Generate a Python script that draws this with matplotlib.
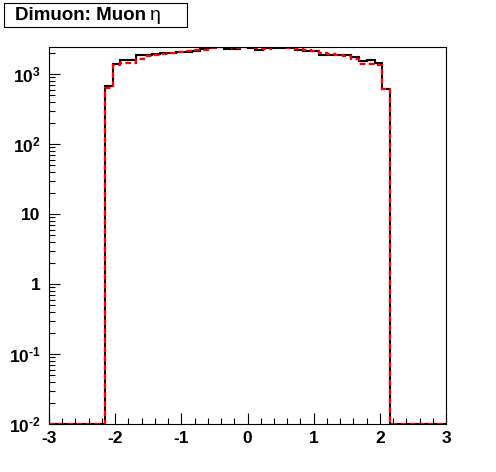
import numpy as np
import matplotlib
matplotlib.use("Agg")
import matplotlib.pyplot as plt
from matplotlib.ticker import FixedLocator, FixedFormatter, LogLocator, MultipleLocator, NullFormatter
from matplotlib.patches import Rectangle

plt.rcParams['font.family'] = ['Liberation Sans', 'DejaVu Sans']
plt.rcParams['font.weight'] = 'bold'
plt.rcParams['mathtext.fontset'] = 'custom'
plt.rcParams['mathtext.rm'] = 'Liberation Sans:bold'
plt.rcParams['mathtext.bf'] = 'Liberation Sans:bold'
plt.rcParams['axes.unicode_minus'] = False

# bin edges of the eta histogram (50 bins, -3 .. 3)
eta_edges = np.linspace(-3, 3, 51)

# counts per bin (7 empty bins on each side)
empty = [0, 0, 0, 0, 0, 0, 0]
black_counts = empty + [681, 1389, 1611, 1611, 1849, 1887, 1931, 1976, 2029, 2063,
                        2097, 2153, 2276, 2352, 2407, 2298, 2298, 2407, 2391, 2203,
                        2352, 2352, 2352, 2352, 2203, 2110, 2131, 1887, 1887, 1887,
                        1887, 1766, 1549, 1601, 1450, 605] + empty
red_counts = empty + [625, 1345, 1422, 1422, 1638, 1826, 1887, 1931, 2015, 2083,
                      2153, 2203, 2239, 2329, 2420, 2420, 2375, 2420, 2420, 2375,
                      2276, 2420, 2420, 2352, 2254, 2203, 2110, 1976, 1912, 1868,
                      1826, 1622, 1389, 1389, 1345, 611] + empty

ymin, ymax = 1e-2, 2440
ytick_vals = [1e-2, 1e-1, 1, 10, 1e2, 1e3]
ytick_labels = [r'$\mathbf{10^{\text{-}2}}$', r'$\mathbf{10^{\text{-}1}}$', '1', '10',
                r'$\mathbf{10^{2}}$', r'$\mathbf{10^{3}}$']
xtick_vals = [-3, -2, -1, 0, 1, 2, 3]

fig = plt.figure(figsize=(4.96, 4.72), dpi=100)
ax = fig.add_axes([49 / 496, 48 / 472, 397 / 496, 377 / 472])

ax.stairs(np.clip(black_counts, ymin, None), eta_edges, baseline=None,
          color='black', linewidth=1.5)
ax.stairs(np.clip(red_counts, ymin, None), eta_edges, baseline=None,
          color='red', linewidth=1.6, linestyle=(0, (2.6, 1.5)))

ax.set_yscale('log')
ax.set_xlim(-3, 3)
ax.set_ylim(ymin, ymax)

ax.xaxis.set_major_locator(FixedLocator(xtick_vals))
ax.xaxis.set_minor_locator(MultipleLocator(0.2))
ax.yaxis.set_major_locator(FixedLocator(ytick_vals))
ax.yaxis.set_major_formatter(FixedFormatter(ytick_labels))
ax.yaxis.set_minor_locator(LogLocator(base=10, subs=np.arange(2, 10)))
ax.yaxis.set_minor_formatter(NullFormatter())

ax.tick_params(which='both', direction='in', top=False, right=False, width=0.8)
ax.tick_params(which='major', length=8)
ax.tick_params(which='minor', length=4)
ax.tick_params(axis='x', pad=5, labelsize=12.5)
ax.tick_params(axis='y', pad=6, labelsize=12.5)
for sp in ax.spines.values():
    sp.set_linewidth(0.8)

# title box
fig.patches.append(Rectangle((4 / 496, 1 - 27 / 472), 183 / 496, 24 / 472,
                             transform=fig.transFigure, facecolor='white',
                             edgecolor='black', linewidth=0.8))
t1 = fig.text(15 / 496, 1 - 15 / 472, 'Dimuon: Muon', ha='left', va='center',
              fontsize=13.5, fontweight='bold')
fig.canvas.draw()
bb = t1.get_window_extent()
fig.text((bb.x1 + 4) / 496, 1 - 15.5 / 472, 'η', ha='left', va='center',
         fontsize=14, fontweight='normal')

fig.savefig('out.png', dpi=100)
